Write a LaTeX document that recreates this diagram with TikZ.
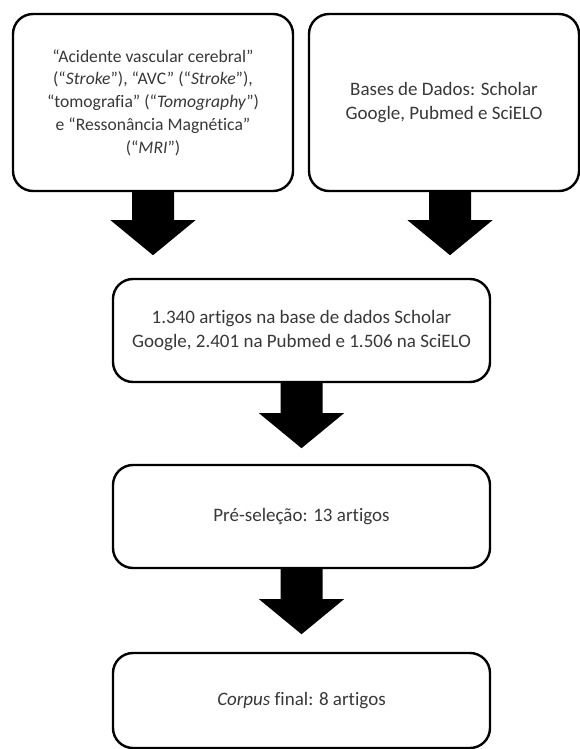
\documentclass[tikz,border=0pt]{standalone}
\usepackage{fontspec}
\setmainfont[Ligatures={NoCommon}]{Carlito}
\begin{document}
\begin{tikzpicture}[x=1pt,y=-1pt,
  box/.style={draw=black, line width=2.4pt, rounded corners=20pt, fill=white,
    align=center, text=black!78, font=\fontsize{19}{24}\selectfont, inner sep=0pt},
  blockarrow/.style={fill=black}]
\useasboundingbox (0,0) rectangle (580,749);
% top row
\node[box, minimum width=280pt, minimum height=177pt, font=\fontsize{17.6}{22.8}\selectfont] (terms) at (153,102.5)
  {“Acidente vascular cerebral”\\(“\textit{Stroke}”), “AVC” (“\textit{Stroke}”),\\“tomografia” (“\textit{Tomography}”)\\e “Ressonância Magnética”\\(“\textit{MRI}”)};
\node[box, minimum width=270pt, minimum height=177pt] (bases) at (444,102.5)
  {Bases de Dados: Scholar\\Google, Pubmed e SciELO};
% lower chain
\node[box, minimum width=377pt, minimum height=103pt] (found) at (301.5,330.5)
  {1.340 artigos na base de dados Scholar\\Google, 2.401 na Pubmed e 1.506 na SciELO};
\node[box, minimum width=377pt, minimum height=103pt] (pre) at (301.5,516.5)
  {Pré-seleção: 13 artigos};
\node[box, minimum width=377pt, minimum height=95pt] (final) at (301.5,700.5)
  {\textit{Corpus} final: 8 artigos};
% block arrows
\fill[blockarrow] (terms.south) ++(-21,-1) -- ++(0,29) -- ++(-21.5,0) -- ++(42.5,35)
  -- ++(42.5,-35) -- ++(-21.5,0) -- ++(0,-29) -- cycle;
\fill[blockarrow] ([xshift=6pt]bases.south) ++(-21,-1) -- ++(0,29) -- ++(-21.5,0) -- ++(42.5,35)
  -- ++(42.5,-35) -- ++(-21.5,0) -- ++(0,-29) -- cycle;
\fill[blockarrow] (found.south) ++(-21,-1) -- ++(0,31) -- ++(-21.5,0) -- ++(42.5,35)
  -- ++(42.5,-35) -- ++(-21.5,0) -- ++(0,-31) -- cycle;
\fill[blockarrow] (pre.south) ++(-21,-1) -- ++(0,31) -- ++(-21.5,0) -- ++(42.5,35)
  -- ++(42.5,-35) -- ++(-21.5,0) -- ++(0,-31) -- cycle;
\end{tikzpicture}
\end{document}
